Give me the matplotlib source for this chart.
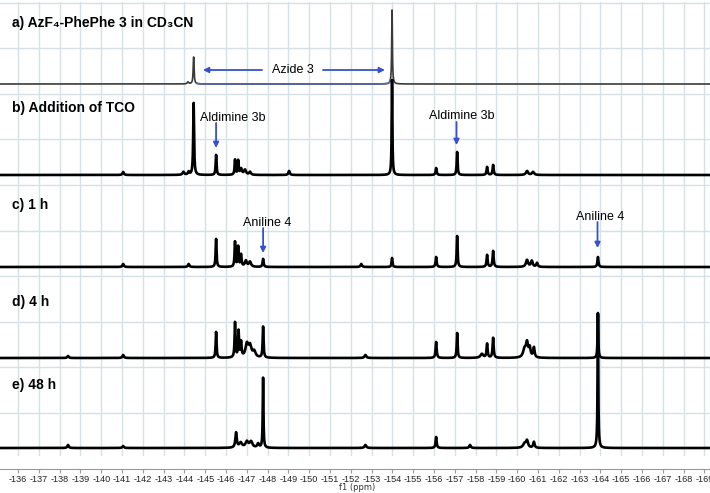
import matplotlib.pyplot as plt
import numpy as np

plt.rcParams['axes.unicode_minus'] = False

# 19F NMR peak lists: chemical shift (ppm), height (px-like units), half width (ppm)
ppm_a = [-144.17, -144.44, -153.98]
int_a = [2, 27, 74]
wid_a = [0.04, 0.025, 0.02]

ppm_b = [-141.05, -143.95, -144.2, -144.44, -145.52, -146.43, -146.58, -146.72,
         -146.91, -147.15, -149.03, -153.98, -156.10, -157.11, -158.55, -158.84,
         -160.47, -160.76]
int_b = [3, 3, 3, 72, 20, 15, 14, 6, 5, 3, 4, 95, 7, 23, 8, 10, 4, 3]
wid_b = [0.04, 0.05, 0.04, 0.025, 0.025, 0.025, 0.025, 0.05, 0.06, 0.05, 0.04,
         0.02, 0.03, 0.025, 0.03, 0.03, 0.06, 0.06]

ppm_c = [-141.05, -144.2, -145.52, -146.43, -146.58, -146.72, -146.95, -147.15,
         -147.78, -152.5, -153.98, -156.10, -157.11, -158.55, -158.84, -160.47,
         -160.7, -160.95, -163.88]
int_c = [3, 3, 28, 25, 20, 12, 6, 5, 8, 3, 9, 10, 31, 12, 16, 7, 6, 4, 10]
wid_c = [0.04, 0.04, 0.025, 0.025, 0.025, 0.03, 0.06, 0.06, 0.03, 0.04, 0.025,
         0.03, 0.025, 0.03, 0.03, 0.06, 0.05, 0.04, 0.03]

ppm_d = [-138.4, -141.05, -145.52, -146.43, -146.60, -146.72, -147.0, -147.15,
         -147.35, -147.78, -152.7, -156.10, -157.11, -158.3, -158.55, -158.84,
         -160.35, -160.47, -160.6, -160.8, -163.88]
int_d = [2, 3, 26, 35, 26, 15, 13, 11, 6, 31, 3, 16, 25, 4, 14, 20, 8, 14, 9,
         10, 44]
wid_d = [0.04, 0.04, 0.025, 0.025, 0.025, 0.03, 0.08, 0.08, 0.08, 0.025, 0.05,
         0.03, 0.025, 0.08, 0.03, 0.03, 0.08, 0.06, 0.05, 0.04, 0.02]

ppm_e = [-138.4, -141.05, -146.48, -146.7, -147.0, -147.2, -147.54, -147.78,
         -152.7, -156.10, -157.73, -160.35, -160.47, -160.8, -163.88]
int_e = [3, 2, 15, 5, 6, 6, 4, 70, 3, 11, 3, 4, 7, 6, 135]
wid_e = [0.04, 0.04, 0.04, 0.08, 0.08, 0.08, 0.05, 0.02, 0.05, 0.03, 0.04,
         0.08, 0.06, 0.04, 0.02]

panel_labels = ["a) AzF\u2084-PhePhe 3 in CD\u2083CN", "b) Addition of TCO",
                "c) 1 h", "d) 4 h", "e) 48 h"]


def lineshape(x, centers, heights, widths):
    y = np.zeros_like(x)
    for c, h, w in zip(centers, heights, widths):
        y += h * w ** 2 / ((x - c) ** 2 + w ** 2)
    return y


x = np.linspace(-135.0, -170.0, 7001)

fig = plt.figure(figsize=(7.1, 4.93), dpi=100)
ax = fig.add_axes([0, 37 / 493, 720 / 710, 454 / 493])
ax.set_xlim(-135.13, -169.75)
ax.set_ylim(0, 454)

# stacked spectra, baseline offsets from bottom
offsets = [372, 281, 189, 98, 8]
spectra = [(ppm_a, int_a, wid_a), (ppm_b, int_b, wid_b), (ppm_c, int_c, wid_c),
           (ppm_d, int_d, wid_d), (ppm_e, int_e, wid_e)]

for i, (p, h, w) in enumerate(spectra):
    y = lineshape(x, p, h, w) + offsets[i]
    if i == 0:
        ax.plot(x, y, color='#3a3a3a', lw=1.2, zorder=3)
        seg = (x < -144.6) & (x > -153.9)
        ax.plot(x[seg], y[seg], color='#5466a8', lw=1.2, zorder=3)
    else:
        ax.plot(x, y, color='black', lw=1.9, zorder=3)

label_y = [433, 348, 251, 154, 71]
for txt, ly in zip(panel_labels, label_y):
    ax.text(-135.71, ly, txt, fontsize=10, fontweight='bold', va='center',
            ha='left', family=['Liberation Sans', 'DejaVu Sans'], zorder=4)

arrow_kw = dict(arrowstyle='-|>', color='#3550d0', lw=1.3, mutation_scale=8,
                shrinkA=0, shrinkB=0)
txt_kw = dict(fontsize=9, ha='center', va='center', family='Liberation Sans',
              zorder=4)

# Azide 3
ax.text(-149.22, 386, "Azide 3", **txt_kw)
ax.annotate('', xy=(-144.89, 386), xytext=(-147.73, 386), arrowprops=arrow_kw)
ax.annotate('', xy=(-153.64, 386), xytext=(-150.66, 386), arrowprops=arrow_kw)

# Aldimine 3b
ax.text(-146.34, 338, "Aldimine 3b", **txt_kw)
ax.annotate('', xy=(-145.52, 308), xytext=(-145.52, 333), arrowprops=arrow_kw)
ax.text(-157.35, 340, "Aldimine 3b", **txt_kw)
ax.annotate('', xy=(-157.08, 311), xytext=(-157.08, 334), arrowprops=arrow_kw)

# Aniline 4
ax.text(-147.97, 233, "Aniline 4", **txt_kw)
ax.annotate('', xy=(-147.78, 203), xytext=(-147.78, 228), arrowprops=arrow_kw)
ax.text(-163.98, 239, "Aniline 4", **txt_kw)
ax.annotate('', xy=(-163.86, 208), xytext=(-163.86, 234), arrowprops=arrow_kw)

# grid and axis styling
ax.set_xticks(np.arange(-136, -170, -1))
ax.set_yticks(np.arange(43, 454, 45.6))
ax.set_yticklabels([])
ax.grid(True, color='#d5e1e6', lw=1.0, zorder=0)
for s in ['left', 'right', 'top']:
    ax.spines[s].set_visible(False)
ax.spines['bottom'].set_position(('outward', 9))
ax.spines['bottom'].set_color('#9a9a9a')
ax.tick_params(axis='y', length=0)
ax.tick_params(axis='x', direction='out', length=3, color='#9a9a9a',
               labelsize=6.6, labelcolor='#222222', pad=2)
for lab in ax.get_xticklabels():
    lab.set_family('Liberation Sans')

fig.text(357 / 710, 1 - 488 / 493, "f1 (ppm)", fontsize=6, ha='center',
         va='center', color='#333333', family='DejaVu Sans')

fig.savefig('out.png', dpi=100)
